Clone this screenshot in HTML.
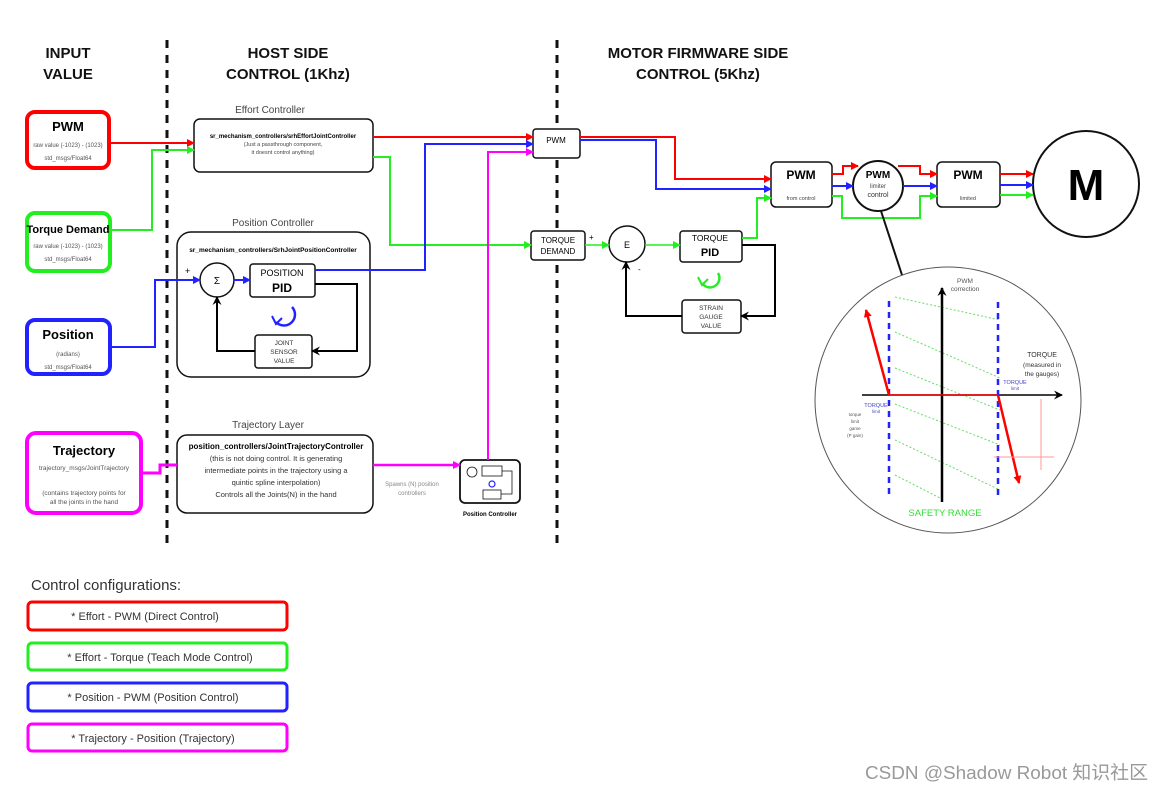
<!DOCTYPE html>
<html><head><meta charset="utf-8"><style>
html,body{margin:0;padding:0;background:#fff}
svg{display:block}
text{font-family:"Liberation Sans",Arial,sans-serif}
</style></head><body>
<svg width="1163" height="791" viewBox="0 0 1163 791" xmlns="http://www.w3.org/2000/svg">
<defs>
<marker id="ar" markerWidth="8" markerHeight="8" refX="7" refY="4" orient="auto" markerUnits="userSpaceOnUse"><path d="M0,0 L8,4 L0,8 z" fill="#f00"/></marker>
<marker id="ag" markerWidth="8" markerHeight="8" refX="7" refY="4" orient="auto" markerUnits="userSpaceOnUse"><path d="M0,0 L8,4 L0,8 z" fill="#2e2"/></marker>
<marker id="ab" markerWidth="8" markerHeight="8" refX="7" refY="4" orient="auto" markerUnits="userSpaceOnUse"><path d="M0,0 L8,4 L0,8 z" fill="#22f"/></marker>
<marker id="am" markerWidth="8" markerHeight="8" refX="7" refY="4" orient="auto" markerUnits="userSpaceOnUse"><path d="M0,0 L8,4 L0,8 z" fill="#f0f"/></marker>
<marker id="ak" markerWidth="9" markerHeight="9" refX="8" refY="4.5" orient="auto" markerUnits="userSpaceOnUse"><path d="M0,0 L9,4.5 L0,9 L3,4.5 z" fill="#000"/></marker>
</defs>

<line x1="167" y1="40" x2="167" y2="546" stroke="#111" stroke-width="3" stroke-dasharray="8,7"/>
<line x1="557" y1="40" x2="557" y2="548" stroke="#111" stroke-width="3" stroke-dasharray="8,7"/>

<g font-weight="bold" font-size="15" text-anchor="middle" fill="#111">
<text x="68" y="58">INPUT</text><text x="68" y="79">VALUE</text>
<text x="288" y="58">HOST SIDE</text><text x="288" y="79">CONTROL (1Khz)</text>
<text x="698" y="58">MOTOR FIRMWARE SIDE</text><text x="698" y="79">CONTROL (5Khz)</text>
</g>

<rect x="27" y="112" width="82" height="56" rx="8" fill="#fff" stroke="#f00" stroke-width="4"/>
<text x="68" y="131" font-size="13" font-weight="bold" text-anchor="middle">PWM</text>
<text x="68" y="147" font-size="6" text-anchor="middle" fill="#555">raw value (-1023) - (1023)</text>
<text x="68" y="160" font-size="6" text-anchor="middle" fill="#555">std_msgs/Float64</text>

<rect x="27" y="213" width="83" height="58" rx="8" fill="#fff" stroke="#2e2" stroke-width="4"/>
<text x="68" y="233" font-size="11" font-weight="bold" text-anchor="middle">Torque Demand</text>
<text x="68" y="248" font-size="6" text-anchor="middle" fill="#555">raw value (-1023) - (1023)</text>
<text x="68" y="261" font-size="6" text-anchor="middle" fill="#555">std_msgs/Float64</text>

<rect x="27" y="320" width="83" height="54" rx="8" fill="#fff" stroke="#22f" stroke-width="4"/>
<text x="68" y="339" font-size="13" font-weight="bold" text-anchor="middle">Position</text>
<text x="68" y="356" font-size="6" text-anchor="middle" fill="#555">(radians)</text>
<text x="68" y="369" font-size="6" text-anchor="middle" fill="#555">std_msgs/Float64</text>

<rect x="27" y="433" width="114" height="80" rx="9" fill="#fff" stroke="#f0f" stroke-width="4"/>
<text x="84" y="455" font-size="13" font-weight="bold" text-anchor="middle">Trajectory</text>
<text x="84" y="470" font-size="6.5" text-anchor="middle" fill="#555">trajectory_msgs/JointTrajectory</text>
<text x="84" y="495" font-size="6.5" text-anchor="middle" fill="#555">(contains trajectory points for</text>
<text x="84" y="504" font-size="6.5" text-anchor="middle" fill="#555">all the joints in the hand</text>

<text x="270" y="113" font-size="10" text-anchor="middle" fill="#444">Effort Controller</text>
<rect x="194" y="119" width="179" height="53" rx="6" fill="#fff" stroke="#111" stroke-width="1.5"/>
<text x="283" y="138" font-size="6" font-weight="bold" text-anchor="middle">sr_mechanism_controllers/srhEffortJointController</text>
<text x="283" y="146" font-size="5.5" text-anchor="middle" fill="#444">(Just a passthrough component,</text>
<text x="283" y="154" font-size="5.5" text-anchor="middle" fill="#444">it doesnt control anything)</text>

<text x="273" y="226" font-size="10" text-anchor="middle" fill="#444">Position Controller</text>
<rect x="177" y="232" width="193" height="145" rx="14" fill="#fff" stroke="#111" stroke-width="1.5"/>
<text x="273" y="252" font-size="6.5" font-weight="bold" text-anchor="middle">sr_mechanism_controllers/SrhJointPositionController</text>
<text x="185" y="274" font-size="9">+</text>
<circle cx="217" cy="280" r="17" fill="#fff" stroke="#111" stroke-width="1.5"/>
<text x="217" y="284" font-size="10" text-anchor="middle">Σ</text>
<rect x="250" y="264" width="65" height="33" rx="3" fill="#fff" stroke="#111" stroke-width="1.5"/>
<text x="282" y="276" font-size="9" text-anchor="middle">POSITION</text>
<text x="282" y="292" font-size="12" font-weight="bold" text-anchor="middle">PID</text>
<rect x="255" y="335" width="57" height="33" rx="3" fill="#fff" stroke="#111" stroke-width="1.5"/>
<text x="284" y="345" font-size="6.5" text-anchor="middle" fill="#333">JOINT</text>
<text x="284" y="354" font-size="6.5" text-anchor="middle" fill="#333">SENSOR</text>
<text x="284" y="363" font-size="6.5" text-anchor="middle" fill="#333">VALUE</text>
<line x1="234" y1="280" x2="250" y2="280" stroke="#22f" stroke-width="2" marker-end="url(#ab)"/>
<polyline points="315,284 357,284 357,351 312,351" fill="none" stroke="#000" stroke-width="2" marker-end="url(#ak)"/>
<polyline points="255,351 217,351 217,297" fill="none" stroke="#000" stroke-width="2" marker-end="url(#ak)"/>
<path d="M292,307 A10,10 0 1 1 276,322" fill="none" stroke="#22f" stroke-width="2.5"/>
<path d="M272,316 L276,324 L282,318" fill="none" stroke="#22f" stroke-width="2"/>

<text x="268" y="428" font-size="10" text-anchor="middle" fill="#444">Trajectory Layer</text>
<rect x="177" y="435" width="196" height="78" rx="10" fill="#fff" stroke="#111" stroke-width="1.5"/>
<text x="276" y="449" font-size="8" font-weight="bold" text-anchor="middle">position_controllers/JointTrajectoryController</text>
<text x="276" y="461" font-size="7.5" text-anchor="middle" fill="#333">(this is not doing control. It is generating</text>
<text x="276" y="473" font-size="7.5" text-anchor="middle" fill="#333">intermediate points in the trajectory using a</text>
<text x="276" y="485" font-size="7.5" text-anchor="middle" fill="#333">quintic spline interpolation)</text>
<text x="276" y="497" font-size="7.5" text-anchor="middle" fill="#333">Controls all the Joints(N) in the hand</text>
<text x="412" y="486" font-size="6" text-anchor="middle" fill="#888">Spawns (N) position</text>
<text x="412" y="495" font-size="6" text-anchor="middle" fill="#888">controllers</text>

<rect x="460" y="460" width="60" height="43" rx="5" fill="#fff" stroke="#111" stroke-width="1.8"/>
<circle cx="472" cy="472" r="5" fill="#fff" stroke="#111" stroke-width="0.8"/>
<rect x="482" y="466" width="20" height="10" fill="#fff" stroke="#111" stroke-width="0.8"/>
<rect x="483" y="490" width="18" height="9" fill="#fff" stroke="#111" stroke-width="0.8"/>
<circle cx="492" cy="484" r="3" fill="none" stroke="#22f" stroke-width="1.2"/>
<polyline points="502,471 512,471 512,494 501,494" fill="none" stroke="#111" stroke-width="0.8"/>
<text x="490" y="516" font-size="6" font-weight="bold" text-anchor="middle">Position Controller</text>

<rect x="533" y="129" width="47" height="29" rx="3" fill="#fff" stroke="#111" stroke-width="1.5"/>
<text x="556" y="143" font-size="8" text-anchor="middle">PWM</text>
<rect x="531" y="231" width="54" height="29" rx="3" fill="#fff" stroke="#111" stroke-width="1.5"/>
<text x="558" y="243" font-size="8" text-anchor="middle">TORQUE</text>
<text x="558" y="254" font-size="8" text-anchor="middle">DEMAND</text>
<text x="589" y="240" font-size="8">+</text>
<circle cx="627" cy="244" r="18" fill="#fff" stroke="#111" stroke-width="1.5"/>
<text x="627" y="248" font-size="9" text-anchor="middle">E</text>
<text x="638" y="272" font-size="8">-</text>
<rect x="680" y="231" width="62" height="31" rx="3" fill="#fff" stroke="#111" stroke-width="1.5"/>
<text x="710" y="241" font-size="8.5" text-anchor="middle">TORQUE</text>
<text x="710" y="256" font-size="11" font-weight="bold" text-anchor="middle">PID</text>
<rect x="682" y="300" width="59" height="33" rx="3" fill="#fff" stroke="#111" stroke-width="1.5"/>
<text x="711" y="310" font-size="6.5" text-anchor="middle" fill="#333">STRAIN</text>
<text x="711" y="319" font-size="6.5" text-anchor="middle" fill="#333">GAUGE</text>
<text x="711" y="328" font-size="6.5" text-anchor="middle" fill="#333">VALUE</text>
<line x1="585" y1="245" x2="609" y2="245" stroke="#2e2" stroke-width="1.5" marker-end="url(#ag)"/>
<line x1="645" y1="245" x2="680" y2="245" stroke="#2e2" stroke-width="1.5" marker-end="url(#ag)"/>
<polyline points="742,245 775,245 775,316 741,316" fill="none" stroke="#000" stroke-width="2" marker-end="url(#ak)"/>
<polyline points="682,316 626,316 626,262" fill="none" stroke="#000" stroke-width="2" marker-end="url(#ak)"/>
<path d="M718,273 A9,9 0 1 1 702,283" fill="none" stroke="#2e2" stroke-width="2.5"/>
<path d="M698,277 L702,285 L708,279" fill="none" stroke="#2e2" stroke-width="2"/>

<rect x="771" y="162" width="61" height="45" rx="5" fill="#fff" stroke="#111" stroke-width="1.5"/>
<text x="801" y="179" font-size="12" font-weight="bold" text-anchor="middle">PWM</text>
<text x="801" y="200" font-size="5.5" text-anchor="middle" fill="#444">from control</text>
<circle cx="878" cy="186" r="25" fill="#fff" stroke="#111" stroke-width="2"/>
<text x="878" y="178" font-size="10" font-weight="bold" text-anchor="middle">PWM</text>
<text x="878" y="188" font-size="6" text-anchor="middle" fill="#444">limiter</text>
<text x="878" y="197" font-size="7" text-anchor="middle" fill="#333">control</text>
<rect x="937" y="162" width="63" height="45" rx="5" fill="#fff" stroke="#111" stroke-width="1.5"/>
<text x="968" y="179" font-size="12" font-weight="bold" text-anchor="middle">PWM</text>
<text x="968" y="200" font-size="5.5" text-anchor="middle" fill="#444">limited</text>
<circle cx="1086" cy="184" r="53" fill="#fff" stroke="#111" stroke-width="2"/>
<text x="1086" y="200" font-size="44" font-weight="bold" text-anchor="middle">M</text>

<g fill="none" stroke-width="2">
<line x1="109" y1="143" x2="194" y2="143" stroke="#f00" marker-end="url(#ar)"/>
<polyline points="110,230 152,230 152,150 194,150" stroke="#2e2" marker-end="url(#ag)"/>
<polyline points="110,347 155,347 155,280 200,280" stroke="#22f" marker-end="url(#ab)"/>
<polyline points="141,473 160,473 160,465 177,465" stroke="#f0f" stroke-width="3"/>
<polyline points="373,465 460,465" stroke="#f0f" stroke-width="2.5" marker-end="url(#am)"/>
<polyline points="373,137 533,137" stroke="#f00" marker-end="url(#ar)"/>
<polyline points="373,157 390,157 390,245 531,245" stroke="#2e2" marker-end="url(#ag)"/>
<polyline points="315,270 425,270 425,144 533,144" stroke="#22f" marker-end="url(#ab)"/>
<polyline points="488,460 488,152 533,152" stroke="#f0f" marker-end="url(#am)"/>
<polyline points="580,137 675,137 675,179 771,179" stroke="#f00" marker-end="url(#ar)"/>
<polyline points="580,140 656,140 656,189 771,189" stroke="#22f" marker-end="url(#ab)"/>
<polyline points="742,238 757,238 757,198 771,198" stroke="#2e2" marker-end="url(#ag)"/>
<polyline points="832,174 843,174 843,166 858,166" stroke="#f00" marker-end="url(#ar)"/>
<line x1="832" y1="186" x2="853" y2="186" stroke="#22f" marker-end="url(#ab)"/>
<polyline points="832,196 842,196 842,218 920,218 920,196 937,196" stroke="#2e2" marker-end="url(#ag)"/>
<polyline points="898,166 920,166 920,174 937,174" stroke="#f00" marker-end="url(#ar)"/>
<line x1="903" y1="186" x2="937" y2="186" stroke="#22f" marker-end="url(#ab)"/>
<line x1="1000" y1="174" x2="1033" y2="174" stroke="#f00" marker-end="url(#ar)"/>
<line x1="1000" y1="185" x2="1033" y2="185" stroke="#22f" marker-end="url(#ab)"/>
<line x1="1000" y1="195" x2="1033" y2="195" stroke="#2e2" marker-end="url(#ag)"/>
<line x1="881" y1="211" x2="902" y2="275" stroke="#111" stroke-width="2"/>
</g>

<circle cx="948" cy="400" r="133" fill="#fff" stroke="#555" stroke-width="1"/>
<g stroke="#6d6" stroke-width="1" stroke-dasharray="2,2">
<line x1="895" y1="297" x2="1000" y2="320"/>
<line x1="895" y1="332" x2="1000" y2="378"/>
<line x1="895" y1="368" x2="1000" y2="410"/>
<line x1="895" y1="404" x2="1000" y2="445"/>
<line x1="895" y1="440" x2="1000" y2="490"/>
<line x1="895" y1="475" x2="940" y2="498"/>
</g>
<line x1="942" y1="502" x2="942" y2="288" stroke="#000" stroke-width="2.5" marker-end="url(#ak)"/>
<line x1="862" y1="395" x2="1062" y2="395" stroke="#000" stroke-width="1.5" marker-end="url(#ak)"/>
<line x1="889" y1="301" x2="889" y2="497" stroke="#22f" stroke-width="2.5" stroke-dasharray="6,5"/>
<line x1="998" y1="302" x2="998" y2="497" stroke="#22f" stroke-width="2.5" stroke-dasharray="6,5"/>
<line x1="889" y1="395" x2="998" y2="395" stroke="#f00" stroke-width="1.5"/>
<line x1="889" y1="395" x2="866" y2="310" stroke="#f00" stroke-width="2.5" marker-end="url(#ar)"/>
<line x1="998" y1="395" x2="1019" y2="483" stroke="#f00" stroke-width="2.5" marker-end="url(#ar)"/>
<line x1="1041" y1="399" x2="1041" y2="470" stroke="#f99" stroke-width="1"/>
<line x1="994" y1="457" x2="1054" y2="457" stroke="#f99" stroke-width="1"/>
<text x="965" y="283" font-size="6.5" text-anchor="middle" fill="#555">PWM</text>
<text x="965" y="291" font-size="6.5" text-anchor="middle" fill="#555">correction</text>
<text x="1042" y="357" font-size="7" text-anchor="middle" fill="#333">TORQUE</text>
<text x="1042" y="367" font-size="6.5" text-anchor="middle" fill="#333">(measured in</text>
<text x="1042" y="376" font-size="6.5" text-anchor="middle" fill="#333">the gauges)</text>
<text x="1015" y="384" font-size="5.5" text-anchor="middle" fill="#44c">TORQUE</text>
<text x="1015" y="390" font-size="4.5" text-anchor="middle" fill="#44c">limit</text>
<text x="876" y="407" font-size="5.5" text-anchor="middle" fill="#44c">TORQUE</text>
<text x="876" y="413" font-size="4.5" text-anchor="middle" fill="#44c">limit</text>
<text x="855" y="416" font-size="4.5" text-anchor="middle" fill="#555">torque</text>
<text x="855" y="423" font-size="4.5" text-anchor="middle" fill="#555">limit</text>
<text x="855" y="430" font-size="4.5" text-anchor="middle" fill="#555">game</text>
<text x="855" y="437" font-size="4.5" text-anchor="middle" fill="#555">(P gain)</text>
<text x="945" y="516" font-size="9.5" text-anchor="middle" fill="#3d3">SAFETY RANGE</text>

<text x="31" y="590" font-size="15" fill="#333">Control configurations:</text>
<g fill="#fff" stroke-width="3">
<rect x="28" y="602" width="259" height="28" rx="4" stroke="#f00"/>
<rect x="28" y="643" width="259" height="27" rx="4" stroke="#2e2"/>
<rect x="28" y="683" width="259" height="28" rx="4" stroke="#22f"/>
<rect x="28" y="724" width="259" height="27" rx="4" stroke="#f0f"/>
</g>
<g font-size="11" text-anchor="middle" fill="#333">
<text x="145" y="620">* Effort - PWM (Direct Control)</text>
<text x="160" y="661">* Effort - Torque (Teach Mode Control)</text>
<text x="153" y="701">* Position - PWM (Position Control)</text>
<text x="153" y="742">* Trajectory - Position (Trajectory)</text>
</g>

<text x="865" y="779" font-size="18.5" fill="#999" textLength="283" lengthAdjust="spacingAndGlyphs" style="font-family:'Liberation Sans','Noto Sans CJK SC',sans-serif">CSDN @Shadow Robot 知识社区</text>
</svg>
</body></html>
